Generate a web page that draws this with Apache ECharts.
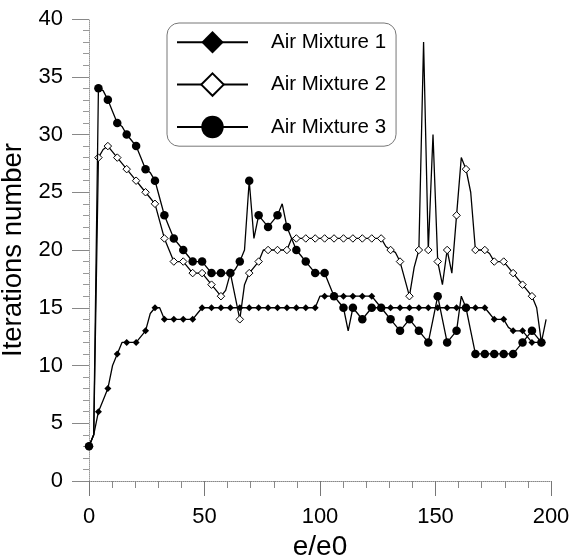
<!DOCTYPE html>
<html>
<head>
<meta charset="utf-8">
<script src="https://cdn.jsdelivr.net/npm/echarts@6/dist/echarts.min.js"></script>
<style>
html,body{margin:0;padding:0;background:#fff;}
#chart{width:569px;height:558px;}
</style>
</head>
<body>
<div id="chart"></div>
<script>
// e/e0 positions of the data points (markers every other point)
var xs = [0,2.04,4.08,6.12,8.16,10.2,12.24,14.28,16.32,18.36,
  20.4,22.44,24.48,26.52,28.56,30.6,32.64,34.68,36.72,38.76,
  40.8,42.84,44.88,46.92,48.96,51,53.04,55.08,57.12,59.16,
  61.2,63.24,65.28,67.32,69.36,71.4,73.44,75.48,77.52,79.56,
  81.6,83.64,85.68,87.72,89.76,91.8,93.84,95.88,97.92,99.96,
  102,104.04,106.08,108.12,110.16,112.2,114.24,116.28,118.32,120.36,
  122.4,124.44,126.48,128.52,130.56,132.6,134.64,136.68,138.72,140.76,
  142.8,144.84,146.88,148.92,150.96,153,155.04,157.08,159.12,161.16,
  163.2,165.24,167.28,169.32,171.36,173.4,175.44,177.48,179.52,181.56,
  183.6,185.64,187.68,189.72,191.76,193.8,195.84,197.88];

var mix1 = [3,4,6,7,8,10,11,12,12,12,
  12,12.5,13,14.5,15,15,14,14,14,14,
  14,14,14,14.5,15,15,15,15,15,15,
  15,15,15,15,15,15,15,15,15,15,
  15,15,15,15,15,15,15,15,15,16,
  16,16,16,16,16,16,16,16,16,16,
  16,15.5,15,15,15,15,15,15,15,15,
  15,15,15,15,15,15,15,15,15,15,
  15,15,15,15,15,14.5,14,14,14,13.3,
  13,13,13,12.5,12,12,12];

var mix2 = [3,4,28,28.7,29,28.5,28,27.5,27,26.5,
  26,25.5,25,24.5,24,22.5,21,20,19,19,
  19,18.5,18,18,18,17.5,17,16.5,16,16.5,
  18,16,14,17,18,18.5,19,20,20,20,
  20,20,20,21,21,21,21,21,21,21,
  21,21,21,21,21,21,21,21,21,21,
  21,21,21,20.3,20,19.8,19,17.5,16,18.5,
  20,38,20,30,19,17,20,18,23,28,
  27,25,20,20,20,19.7,19,19,19,18.5,
  18,17.5,17,16.5,16,15,12,14];

var mix3 = [3,4,34,33.8,33,32,31,30.7,30,29.5,
  29,28,27,26.7,26,24.5,23,22,21,20.5,
  20,19.5,19,19,19,18.5,18,18,18,18,
  18,18.3,19,20,26,21,23,22.5,22,22.5,
  23,24,22,21,20,19.5,19,18.5,18,18,
  18,17,16,15.5,15,13,15,14.5,14,14.5,
  15,15,15,14.5,14,13.5,13,13.5,14,13.5,
  13,12.5,12,14,16,14,12,12.5,13,16,
  15,13,11,11,11,11,11,11,11,11,
  11,11.5,12,12.5,13,12.5,12];

var seriesNames = ['Air Mixture 1','Air Mixture 2','Air Mixture 3'];
var xTicks = [0,50,100,150,200];
var yTicks = [0,5,10,15,20,25,30,35,40];

function pairs(vals){
  var out = [];
  for (var i = 0; i < vals.length; i++) out.push([xs[i], vals[i]]);
  return out;
}
function markEvery(size){
  return function(v, p){ return p.dataIndex % 2 === 0 ? size : 0; };
}

var FONT = '"Liberation Sans", Arial, sans-serif';
var chart = echarts.init(document.getElementById('chart'), null, {renderer:'canvas'});
chart.setOption({
  animation:false,
  backgroundColor:'#fff',
  textStyle:{fontFamily:FONT,color:'#000'},
  grid:{left:89,right:18,top:19,bottom:77,containLabel:false,outerBoundsMode:'none'},
  legend:{
    data:seriesNames,
    orient:'vertical',
    left:167, top:23,
    padding:[8,10,8,9],
    itemWidth:71, itemHeight:28, itemGap:19,
    textStyle:{fontSize:20.5,fontFamily:FONT,color:'#000',padding:[0,0,0,18]},
    borderColor:'#777', borderWidth:1, borderRadius:12,
    backgroundColor:'#fff'
  },
  xAxis:{
    type:'value', min:xTicks[0], max:xTicks[xTicks.length-1], interval:50,
    name:'e/e0', nameLocation:'middle', nameGap:50,
    nameTextStyle:{fontSize:28,fontFamily:FONT,color:'#000'},
    axisLine:{show:true,lineStyle:{color:'#888',type:'dotted',width:1}},
    axisTick:{show:true,length:15,lineStyle:{color:'#777'}},
    minorTick:{show:true,splitNumber:5,length:7,lineStyle:{color:'#888'}},
    axisLabel:{fontSize:22,margin:25,color:'#000',fontFamily:FONT},
    splitLine:{show:false}
  },
  yAxis:{
    type:'value', min:yTicks[0], max:yTicks[yTicks.length-1], interval:5,
    name:'Iterations number', nameLocation:'middle', nameGap:49, nameRotate:90,
    nameTextStyle:{fontSize:27.5,fontFamily:FONT,color:'#000'},
    axisLine:{show:true,lineStyle:{color:'#999',type:'dotted',width:1}},
    axisTick:{show:true,length:17,lineStyle:{color:'#888'}},
    minorTick:{show:true,splitNumber:5,length:6,lineStyle:{color:'#999'}},
    axisLabel:{fontSize:22,margin:26,color:'#000',fontFamily:FONT},
    splitLine:{show:false}
  },
  series:[
    {name:seriesNames[0], type:'line', data:pairs(mix1),
     symbol:'diamond', symbolSize:markEvery(7), showAllSymbol:true,
     lineStyle:{color:'#000',width:1.3},
     itemStyle:{color:'#000',borderColor:'#000',borderWidth:0},
     z:2},
    {name:seriesNames[1], type:'line', data:pairs(mix2),
     symbol:'diamond', symbolSize:markEvery(7.5), showAllSymbol:true,
     lineStyle:{color:'#000',width:1.3},
     itemStyle:{color:'#fff',borderColor:'#000',borderWidth:1},
     z:3},
    {name:seriesNames[2], type:'line', data:pairs(mix3),
     symbol:'circle', symbolSize:markEvery(8.5), showAllSymbol:true,
     lineStyle:{color:'#000',width:1.3},
     itemStyle:{color:'#000',borderColor:'#000',borderWidth:0},
     z:4}
  ]
});
</script>
</body>
</html>
